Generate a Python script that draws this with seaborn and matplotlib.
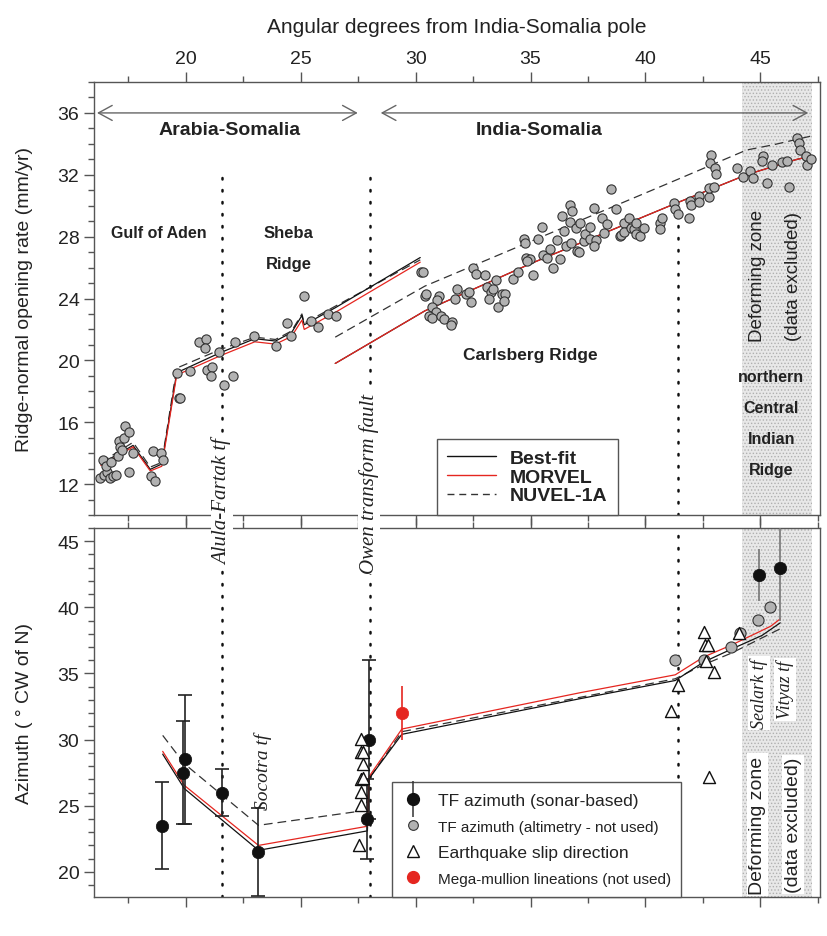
import numpy as np
import pandas as pd
import matplotlib
matplotlib.use("Agg")
import matplotlib.pyplot as plt
import seaborn as sns
from matplotlib.lines import Line2D
from matplotlib.ticker import MultipleLocator

# ---------------- data ----------------
# Top panel: ridge-normal opening rate (mm/yr) vs angular distance (deg)
gulf_x = [16.27, 16.38, 16.42, 16.57, 16.52, 16.71, 16.74, 16.81, 16.96, 17.03, 17.10, 17.14,
          17.20, 17.32, 17.36, 17.53, 17.51, 17.68, 18.55, 18.48, 18.65, 18.91, 18.99, 19.71]
gulf_y = [12.39, 13.57, 12.60, 12.77, 13.16, 12.39, 13.42, 12.52, 12.60, 13.80, 14.77, 14.39,
          14.23, 14.97, 15.78, 15.39, 12.77, 14.02, 14.17, 12.55, 12.17, 14.02, 13.57, 17.57]
sheba_x = [19.61, 19.74, 20.19, 20.58, 20.87, 20.84, 20.90, 21.12, 21.09, 21.42, 21.67, 22.07,
           22.14, 22.97, 23.94, 24.39, 24.57, 25.12, 25.43, 25.73, 26.19, 26.52]
sheba_y = [19.18, 17.59, 19.33, 21.20, 21.37, 20.79, 19.39, 19.57, 18.97, 20.55, 18.41, 18.97,
           21.18, 21.55, 20.94, 22.41, 21.55, 24.17, 22.55, 22.15, 22.99, 22.88]
carls_x = [30.22, 30.32, 30.39, 30.46, 31.01, 30.94, 30.72, 30.87, 30.60, 30.72, 31.09, 31.23,
           31.60, 31.55, 31.81, 31.70, 32.17, 32.32, 32.42, 32.49, 32.61, 33.01, 33.12, 33.26,
           33.36, 33.51, 33.20, 33.58, 33.77, 33.91, 33.84, 34.23, 34.45, 35.10, 34.81, 34.97,
           34.86, 34.71, 34.74, 35.32, 35.54, 35.73, 35.84, 35.97, 36.16, 36.28, 36.55, 36.78,
           36.45, 37.03, 35.51, 36.35, 36.74, 36.81, 36.71, 37.00, 37.10, 37.17, 37.32, 37.39,
           37.61, 37.61, 37.78, 37.87, 37.75, 38.09, 38.19, 38.33, 38.52, 38.70, 38.88, 38.96,
           39.06, 39.09, 39.27, 39.38, 39.49, 39.61, 39.57, 39.75, 39.96, 40.62, 40.73, 40.62,
           41.26, 41.30, 41.40, 41.88, 41.96, 42.00, 42.32, 42.32, 42.75, 42.78, 42.97, 42.86,
           42.83, 43.04, 43.07, 43.99, 44.25, 44.57, 44.67, 45.12, 45.07, 45.29, 45.51, 45.94,
           46.16, 46.23, 46.60, 46.67, 46.71, 47.00, 47.03, 47.20]
carls_y = [25.72, 25.72, 24.17, 24.32, 24.17, 23.91, 23.42, 23.14, 22.88, 22.77, 22.84, 22.66,
           22.47, 22.30, 24.64, 24.00, 24.28, 24.39, 23.80, 25.94, 25.57, 25.50, 24.77, 24.43,
           24.64, 25.20, 23.95, 23.46, 24.28, 24.28, 23.85, 25.24, 25.72, 25.50, 26.65, 26.54,
           26.43, 27.83, 27.57, 27.83, 26.81, 26.65, 27.18, 26.00, 27.78, 26.58, 27.39, 27.61,
           28.36, 27.07, 28.64, 29.33, 30.02, 29.65, 28.97, 28.58, 27.03, 28.86, 27.72, 28.19,
           28.64, 27.83, 29.87, 27.78, 27.39, 29.23, 28.26, 28.79, 31.10, 29.81, 28.04, 28.08,
           28.90, 28.30, 29.20, 28.58, 28.47, 28.86, 28.15, 28.04, 28.58, 28.90, 29.23, 28.52,
           30.15, 29.76, 29.44, 29.23, 30.30, 30.02, 30.62, 30.23, 30.58, 31.16, 31.23, 33.31,
           32.77, 32.41, 32.02, 32.41, 31.85, 32.23, 31.81, 33.20, 32.88, 31.48, 32.62, 32.84,
           32.88, 31.23, 34.39, 34.06, 33.63, 33.24, 32.66, 33.03]

# model curves, Arabia-Somalia segment
as_x = [16.3, 17.7, 18.45, 18.95, 19.6, 21.5, 23.0, 23.9, 24.6, 25.05, 25.15, 26.5, 30.2]
as_best = [13.3, 14.5, 12.95, 13.3, 19.2, 20.5, 21.4, 21.25, 21.8, 22.9, 22.3, 23.4, 26.65]
as_morvel = [13.2, 14.4, 12.85, 13.15, 19.05, 20.3, 21.2, 21.05, 21.55, 22.6, 22.0, 23.1, 26.35]
as_nuvel = [13.4, 14.7, 13.1, 13.4, 19.5, 20.7, 21.5, 21.35, 21.9, 23.0, 22.4, 23.5, 26.5]
# model curves, India-Somalia segment
is_x = [26.5, 30.4, 35.0, 41.4, 44.4, 45.6, 46.6, 47.2]
is_best = [19.8, 23.2, 26.25, 30.2, 32.0, 32.55, 33.0, 33.2]
is_morvel = [19.8, 23.2, 26.25, 30.2, 32.0, 32.55, 33.0, 33.2]
is_nuvel_x = [26.5, 30.4, 41.4, 44.4, 45.6, 47.2]
is_nuvel = [21.5, 24.8, 31.7, 33.6, 33.95, 34.5]

# Bottom panel: azimuth (deg CW of N)
az_best_x = [18.99, 19.93, 23.16, 27.9, 27.97, 29.4, 37.17, 41.3, 42.53, 43.77, 45.07, 45.87]
az_best = [28.9, 26.3, 21.63, 23.1, 27.05, 30.4, 33.1, 34.47, 35.86, 36.86, 37.87, 38.83]
az_morvel_x = [18.99, 19.93, 23.16, 27.9, 27.97, 29.4, 37.17, 41.3, 42.53, 43.77, 45.07, 45.46, 45.87]
az_morvel = [29.11, 26.54, 22.0, 23.45, 27.2, 30.8, 33.55, 34.9, 36.24, 37.17, 38.25, 38.58, 39.13]
az_nuvel_x = [18.99, 19.93, 23.16, 27.83, 27.97, 29.4, 37.17, 41.3, 42.53, 43.77, 45.87]
az_nuvel = [30.32, 28.18, 23.52, 24.65, 27.05, 30.6, 33.2, 34.6, 35.66, 36.56, 38.38]

sonar_x = [18.96, 19.86, 19.97, 21.57, 23.16, 27.87, 27.97]
sonar_y = [23.5, 27.5, 28.5, 26.0, 21.5, 24.0, 30.0]
sonar_err = [3.3, 3.9, 4.9, 1.75, 3.3, 3.0, 6.0]
sonar_ex_x = [44.93, 45.87]
sonar_ex_y = [42.45, 43.0]
sonar_ex_err = [2.0, 4.0]
alt_x = [41.27, 42.57, 43.74, 44.10, 44.90, 45.43]
alt_y = [36.04, 36.04, 37.04, 38.05, 39.06, 40.01]
eq_x = [27.61, 27.61, 27.71, 27.70, 27.62, 27.72, 27.61, 27.63, 27.54,
        41.40, 41.13, 42.57, 42.58, 42.71, 42.65, 42.97, 44.06, 42.75]
eq_y = [30.08, 29.06, 29.06, 28.15, 27.05, 27.10, 26.04, 25.03, 22.06,
        34.15, 32.13, 38.13, 37.12, 37.12, 35.98, 35.10, 38.08, 27.18]
mull_x = [29.39]
mull_y = [32.03]
mull_err = [2.05]

# ---------------- style ----------------
sns.set_theme(style="ticks")
plt.rcParams['font.family'] = ['Liberation Sans', 'DejaVu Sans']
plt.rcParams['hatch.linewidth'] = 0.6
RED = '#e52620'
SPINE = '#555555'
TXT = '#222222'
GRAYF = '#b2b2b2'

W, H = 828, 937
fig = plt.figure(figsize=(W / 100, H / 100), dpi=100)
L, R = 94, 820
ax1 = fig.add_axes([L / W, 1 - 516 / H, (R - L) / W, (516 - 83) / H])
ax2 = fig.add_axes([L / W, 1 - 898 / H, (R - L) / W, (898 - 529) / H])

XMIN, XMAX = 16.0, 47.6
for ax in (ax1, ax2):
    ax.set_xlim(XMIN, XMAX)
    ax.set_facecolor('white')
    for sp in ax.spines.values():
        sp.set_color(SPINE)
        sp.set_linewidth(1.0)
        sp.set_visible(True)
    ax.xaxis.set_major_locator(MultipleLocator(5))
    ax.xaxis.set_minor_locator(MultipleLocator(2.5))
    ax.tick_params(which='major', direction='out', length=7, width=1, color=SPINE,
                   labelsize=14, labelcolor=TXT)
    ax.tick_params(which='minor', direction='out', length=4, width=1, color=SPINE)
    ax.tick_params(axis='x', which='both', top=True, bottom=True)
    ax.tick_params(axis='y', which='both', left=True, right=False)
    # deforming zone (stippled)
    ax.axvspan(44.2, 47.25, facecolor='#e8e8e8', hatch='.....', edgecolor='#b0b0b0',
               lw=0, zorder=0)

ax1.tick_params(axis='x', labeltop=True, labelbottom=False)
ax2.tick_params(axis='x', labeltop=False, labelbottom=False)

ax1.set_ylim(10, 38)
ax1.yaxis.set_major_locator(MultipleLocator(4))
ax1.yaxis.set_minor_locator(MultipleLocator(1))
ax2.set_ylim(18.1, 46.0)
ax2.yaxis.set_major_locator(MultipleLocator(5))
ax2.yaxis.set_minor_locator(MultipleLocator(1))

ax1.xaxis.set_label_position('top')
ax1.set_xlabel('Angular degrees from India-Somalia pole', fontsize=15, color=TXT, labelpad=13)
ax1.set_ylabel('Ridge-normal opening rate (mm/yr)', fontsize=14, color=TXT)
ax2.set_ylabel('Azimuth ( \u00b0 CW of N)', fontsize=14, color=TXT)
ax1.yaxis.set_label_coords(-(L - 33) / (R - L), 0.5)
ax2.yaxis.set_label_coords(-(L - 33) / (R - L), 0.5)

# ---- dotted fault lines ----
dot_kw = dict(color='#111111', lw=1.8, linestyle=(0, (0.6, 4.2)), dash_capstyle='round', zorder=1)
for xv, ytop in [(21.57, 32.0), (28.0, 32.0), (41.4, 30.2)]:
    ax1.plot([xv, xv], [10, ytop], **dot_kw)
    ax2.plot([xv, xv], [18.1, 46.0], **dot_kw)


def draw_line(ax, xs, ys, color, dashed=False, lw=0.9, z=2):
    sns.lineplot(x=xs, y=ys, ax=ax, sort=False, estimator=None, color=color, lw=lw, zorder=z)
    ln = ax.lines[-1]
    if dashed:
        ln.set_dashes((7, 4))
    return ln


# ---- top panel lines ----
draw_line(ax1, as_x, as_nuvel, '#333333', dashed=True)
draw_line(ax1, as_x, as_best, '#111111')
draw_line(ax1, as_x, as_morvel, RED)
draw_line(ax1, is_nuvel_x, is_nuvel, '#333333', dashed=True)
draw_line(ax1, is_x, is_best, '#111111')
draw_line(ax1, is_x, is_morvel, RED)

# ---- top panel points ----
pts = pd.DataFrame({'x': gulf_x + sheba_x + carls_x, 'y': gulf_y + sheba_y + carls_y})
sns.scatterplot(data=pts, x='x', y='y', ax=ax1, s=44, color=GRAYF, edgecolor='#333333',
                linewidth=0.8, zorder=3, legend=False)

# ---- top panel arrows & text ----
arr = dict(arrowstyle='<->,head_length=0.55,head_width=0.3', color='#666666', lw=1.0,
           mutation_scale=18, shrinkA=0, shrinkB=0)
ax1.annotate('', xy=(16.13, 36), xytext=(27.48, 36), arrowprops=arr)
ax1.annotate('', xy=(28.48, 36), xytext=(47.09, 36), arrowprops=arr)
bold = dict(fontweight='bold', color=TXT, ha='center', va='center')
ax1.text(21.91, 34.92, 'Arabia-Somalia', fontsize=14, **bold)
ax1.text(35.39, 34.92, 'India-Somalia', fontsize=14, **bold)
ax1.text(18.83, 28.28, 'Gulf of Aden', fontsize=11.5, **bold)
ax1.text(24.48, 28.28, 'Sheba', fontsize=12, **bold)
ax1.text(24.48, 26.28, 'Ridge', fontsize=12, **bold)
ax1.text(35.0, 20.35, 'Carlsberg Ridge', fontsize=12.5, **bold)
for yy, s in zip([18.93, 16.93, 14.93, 12.93], ['northern', 'Central', 'Indian', 'Ridge']):
    ax1.text(45.48, yy, s, fontsize=11.5, **bold)
ax1.text(44.87, 25.5, 'Deforming zone', fontsize=13.5, rotation=90, ha='center', va='center', color=TXT)
ax1.text(46.43, 25.5, '(data excluded)', fontsize=13.5, rotation=90, ha='center', va='center', color=TXT)

leg1 = ax1.legend(handles=[Line2D([], [], color='#111111', lw=1),
                           Line2D([], [], color=RED, lw=1),
                           Line2D([], [], color='#333333', lw=1, dashes=(5, 3.5))],
                  labels=['Best-fit', 'MORVEL', 'NUVEL-1A'],
                  loc='lower left', bbox_to_anchor=((436.7 - L) / (R - L), 0.0),
                  borderaxespad=0, frameon=True, fancybox=False, framealpha=1,
                  edgecolor=SPINE, prop=dict(weight='bold', size=14),
                  handlelength=2.5, handletextpad=0.7, labelspacing=0.05,
                  borderpad=0.55)
leg1.get_frame().set_linewidth(1)
for t in leg1.get_texts():
    t.set_color(TXT)

# ---- bottom panel lines ----
draw_line(ax2, az_nuvel_x, az_nuvel, '#333333', dashed=True)
draw_line(ax2, az_best_x, az_best, '#111111')
draw_line(ax2, az_morvel_x, az_morvel, RED)

# ---- bottom panel points ----
ax2.errorbar(sonar_x, sonar_y, yerr=sonar_err, fmt='none', ecolor='#222222', elinewidth=1.2,
             capsize=5, capthick=1.2, zorder=3)
ax2.errorbar(sonar_ex_x, sonar_ex_y, yerr=sonar_ex_err, fmt='none', ecolor='#777777',
             elinewidth=1.2, capsize=0, zorder=3)
sns.scatterplot(x=sonar_x + sonar_ex_x, y=sonar_y + sonar_ex_y, ax=ax2, s=80, color='#111111',
                edgecolor='#111111', linewidth=0.5, zorder=4, legend=False)
ax2.errorbar(mull_x, mull_y, yerr=mull_err, fmt='none', ecolor=RED, elinewidth=1.2,
             capsize=0, zorder=3)
sns.scatterplot(x=mull_x, y=mull_y, ax=ax2, s=80, color=RED, edgecolor=RED, linewidth=0.5,
                zorder=4, legend=False)
sns.scatterplot(x=alt_x, y=alt_y, ax=ax2, s=64, color=GRAYF, edgecolor='#333333',
                linewidth=0.8, zorder=4, legend=False)
sns.scatterplot(x=eq_x, y=eq_y, ax=ax2, s=75, marker='^', color='white', edgecolor='#111111',
                linewidth=1.0, zorder=4, legend=False)

# ---- bottom panel texts ----
serif = dict(family=['Liberation Serif', 'DejaVu Serif'], style='italic', color=TXT,
             rotation=90, ha='center', va='center')
ax2.text(23.35, 27.65, 'Socotra tf', fontsize=14, **serif)
wbox = dict(facecolor='white', edgecolor='none', pad=1.5)
ax2.text(44.96, 33.5, 'Sealark tf', fontsize=13, bbox=wbox, **serif)
ax2.text(46.09, 33.8, 'Vityaz tf', fontsize=13, bbox=wbox, **serif)
ax2.text(44.87, 23.57, 'Deforming zone', fontsize=14, rotation=90, ha='center', va='center',
         color=TXT, bbox=wbox)
ax2.text(46.43, 23.57, '(data excluded)', fontsize=14, rotation=90, ha='center', va='center',
         color=TXT, bbox=wbox)

h_sonar = (Line2D([], [], ls='', marker='|', ms=26, mew=1.1, color='#333333'),
           Line2D([], [], ls='', marker='o', ms=8.5, color='#111111'))
h_alt = Line2D([], [], ls='', marker='o', ms=7, mfc=GRAYF, mec='#333333', mew=0.8)
h_eq = Line2D([], [], ls='', marker='^', ms=8.5, mfc='white', mec='#111111', mew=1)
h_mull = Line2D([], [], ls='', marker='o', ms=8.5, color=RED)
leg2 = ax2.legend(handles=[h_sonar, h_alt, h_eq, h_mull],
                  labels=['TF azimuth (sonar-based)', 'TF azimuth (altimetry - not used)',
                          'Earthquake slip direction', 'Mega-mullion lineations (not used)'],
                  loc='lower left', bbox_to_anchor=((391.7 - L) / (R - L), 0.0),
                  borderaxespad=0, frameon=True, fancybox=False, framealpha=1,
                  edgecolor=SPINE, fontsize=12, handlelength=1.2, handletextpad=0.9,
                  labelspacing=0.68, borderpad=0.65)
leg2.get_frame().set_linewidth(1)
for t, fs in zip(leg2.get_texts(), [12.5, 11, 12.5, 11]):
    t.set_fontsize(fs)
    t.set_color(TXT)

# ---- fault names spanning both panels ----
fig.text(222 / W, 1 - 502 / H, 'Alula-Fartak tf', fontsize=15, bbox=dict(facecolor='white',
         edgecolor='none', pad=1), zorder=10, **serif)
fig.text(369 / W, 1 - 484 / H, 'Owen transform fault', fontsize=15, bbox=dict(facecolor='white',
         edgecolor='none', pad=1), zorder=10, **serif)

fig.savefig('out.png', dpi=100)
